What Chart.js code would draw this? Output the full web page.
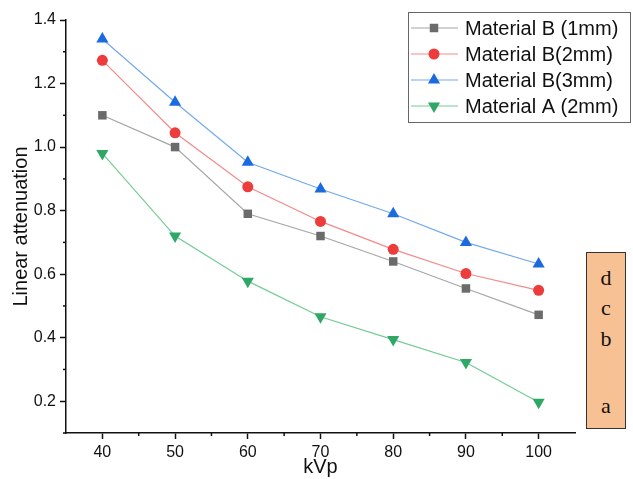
<!DOCTYPE html>
<html>
<head>
<meta charset="utf-8">
<script src="https://cdn.jsdelivr.net/npm/chart.js@4"></script>
<style>
  html, body { margin: 0; padding: 0; background: #fff; }
  #wrap { position: relative; width: 633px; height: 479px; }
  #box {
    position: absolute; left: 586px; top: 252px; width: 40px; height: 177px;
    background: #f8c193; border: 1px solid #333; box-sizing: border-box;
    font-family: "Liberation Serif", serif; font-size: 22px; color: #111;
  }
  #box span { position: absolute; left: 0; width: 100%; text-align: center; }
</style>
</head>
<body>
<div id="wrap">
  <canvas id="myChart" width="633" height="479"></canvas>
  <div id="box">
    <span style="top:12px">d</span>
    <span style="top:42px">c</span>
    <span style="top:73px">b</span>
    <span style="top:140px">a</span>
  </div>
</div>
<script>
const kvp = [40, 50, 60, 70, 80, 90, 100];
const matB1 = [1.10, 1.00, 0.79, 0.72, 0.64, 0.555, 0.472];
const matB2 = [1.273, 1.045, 0.875, 0.766, 0.678, 0.602, 0.549];
const matB3 = [1.340, 1.141, 0.952, 0.868, 0.790, 0.700, 0.632];
const matA2 = [0.980, 0.720, 0.578, 0.466, 0.394, 0.322, 0.197];
const seriesNames = ['Material B (1mm)', 'Material B(2mm)', 'Material B(3mm)', 'Material A (2mm)'];

const font = 'Liberation Sans';
const pts = vals => vals.map((v, i) => ({x: kvp[i], y: v}));

const styles = [
  {line: '#a6a6a6', fill: '#6b6b6b', pointStyle: 'rect', r: 6, rot: 0},
  {line: '#f28a8a', fill: '#ee3b3b', pointStyle: 'circle', r: 5.5, rot: 0},
  {line: '#72a9ee', fill: '#1b6ae0', pointStyle: 'triangle', r: 7, rot: 0},
  {line: '#72cc97', fill: '#2fa866', pointStyle: 'triangle', r: 7, rot: 180}
];
const allData = [matB1, matB2, matB3, matA2];

const datasets = allData.map((d, i) => ({
  label: seriesNames[i],
  data: pts(d),
  borderColor: styles[i].line,
  borderWidth: 1.2,
  backgroundColor: styles[i].fill,
  pointBackgroundColor: styles[i].fill,
  pointBorderColor: styles[i].fill,
  pointBorderWidth: 0,
  pointStyle: styles[i].pointStyle,
  pointRadius: styles[i].r,
  pointRotation: styles[i].rot,
  tension: 0
}));

const isMinorY = v => Math.round(v * 10) % 2 !== 0;
const isMinorX = v => Math.round(v) % 10 !== 0;

// short minor ticks + boxed legend
const extras = {
  id: 'extras',
  afterDraw(chart) {
    const c = chart.ctx;
    const xs = chart.scales.x, ys = chart.scales.y;
    c.save();
    c.strokeStyle = '#111';
    c.lineWidth = 1.5;
    ys.ticks.forEach(t => {
      if (!isMinorY(t.value)) return;
      const y = ys.getPixelForValue(t.value);
      c.beginPath(); c.moveTo(ys.right - 3, y); c.lineTo(ys.right, y); c.stroke();
    });
    xs.ticks.forEach(t => {
      if (!isMinorX(t.value) || t.value <= xs.min || t.value >= xs.max) return;
      const x = xs.getPixelForValue(t.value);
      c.beginPath(); c.moveTo(x, xs.top); c.lineTo(x, xs.top + 3); c.stroke();
    });
    // legend
    const lx = 408, ly = 12, lw = 222, lh = 110;
    c.fillStyle = '#fff';
    c.fillRect(lx, ly, lw, lh);
    c.strokeStyle = '#666';
    c.lineWidth = 1;
    c.strokeRect(lx + 0.5, ly + 0.5, lw, lh);
    c.font = '20px "' + font + '"';
    c.textBaseline = 'middle';
    chart.data.datasets.forEach((ds, i) => {
      const y = 28 + i * 26;
      c.strokeStyle = ds.borderColor;
      c.lineWidth = 1;
      c.beginPath(); c.moveTo(411, y); c.lineTo(458, y); c.stroke();
      c.fillStyle = ds.pointBackgroundColor;
      c.strokeStyle = ds.pointBorderColor;
      Chart.helpers.drawPoint(c, {pointStyle: ds.pointStyle, radius: ds.pointRadius, rotation: ds.pointRotation, borderWidth: 0}, 434, y);
      c.fillStyle = '#111';
      c.fillText(ds.label, 465, y + 1);
    });
    c.restore();
  }
};

new Chart(document.getElementById('myChart'), {
  type: 'line',
  data: { datasets },
  options: {
    responsive: false,
    animation: false,
    layout: { padding: { top: 20, right: 58, left: 0, bottom: 0 } },
    plugins: { legend: { display: false }, tooltip: { enabled: false } },
    scales: {
      x: {
        type: 'linear', min: 35, max: 105,
        afterFit: s => { s.height = 46; },
        afterBuildTicks: s => { s.ticks = [40,45,50,55,60,65,70,75,80,85,90,95,100].map(v => ({value: v})); },
        border: { color: '#111', width: 1.5 },
        grid: {
          drawOnChartArea: false, tickLength: 6, tickWidth: 1.5,
          tickColor: ctx => isMinorX(ctx.tick.value) ? 'rgba(0,0,0,0)' : '#111'
        },
        ticks: {
          autoSkip: false, maxRotation: 0, padding: 4, color: '#111',
          font: { family: font, size: 16 },
          callback: v => isMinorX(v) ? '' : String(v)
        },
        title: { display: true, text: 'kVp', color: '#111', font: { family: font, size: 20 }, padding: { top: -4, bottom: 0 } }
      },
      y: {
        min: 0.1, max: 1.4,
        afterFit: s => { s.width = 66; },
        afterBuildTicks: s => { s.ticks = [1,2,3,4,5,6,7,8,9,10,11,12,13,14].map(v => ({value: v / 10})); },
        border: { color: '#111', width: 1.5 },
        grid: {
          drawOnChartArea: false, tickLength: 6, tickWidth: 1.5,
          tickColor: ctx => isMinorY(ctx.tick.value) ? 'rgba(0,0,0,0)' : '#111'
        },
        ticks: {
          autoSkip: false, padding: 4, color: '#111',
          font: { family: font, size: 16 },
          callback: v => isMinorY(v) ? '' : v.toFixed(1)
        },
        title: { display: true, text: 'Linear attenuation', color: '#111', font: { family: font, size: 20 }, padding: { top: 9, bottom: 0 } }
      }
    }
  },
  plugins: [extras]
});
</script>
</body>
</html>
